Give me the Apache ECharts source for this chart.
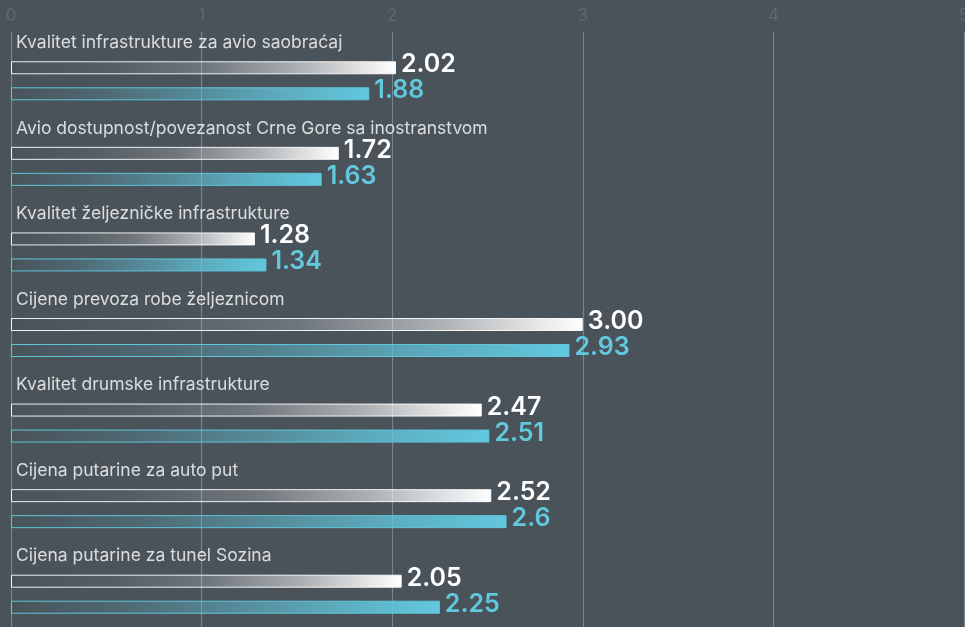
<!DOCTYPE html>
<html>
<head>
<meta charset="utf-8">
<style>
  html, body { margin: 0; padding: 0; background: #4a535a; }
  #chart { width: 965px; height: 627px; }
</style>
<script src="https://cdn.jsdelivr.net/npm/echarts@6/dist/echarts.min.js"></script>
</head>
<body>
<div id="chart"></div>
<script>
// kategorije i vrijednosti
var categories = [
  'Kvalitet infrastrukture za avio saobraćaj',
  'Avio dostupnost/povezanost Crne Gore sa inostranstvom',
  'Kvalitet željezničke infrastrukture',
  'Cijene prevoza robe željeznicom',
  'Kvalitet drumske infrastrukture',
  'Cijena putarine za auto put',
  'Cijena putarine za tunel Sozina'
];
var whiteValues = [2.02, 1.72, 1.28, 3.00, 2.47, 2.52, 2.05];
var cyanValues = [1.88, 1.63, 1.34, 2.93, 2.51, 2.6, 2.25];
var whiteLabels = ['2.02', '1.72', '1.28', '3.00', '2.47', '2.52', '2.05'];
var cyanLabels = ['1.88', '1.63', '1.34', '2.93', '2.51', '2.6', '2.25'];
var xTicks = [0, 1, 2, 3, 4, 5];

var FONT = 'Inter, "Noto Sans", sans-serif';

function gradient(r, g, b, stops) {
  var list = [];
  for (var i = 0; i < stops.length; i++) {
    list.push({ offset: stops[i][0], color: 'rgba(' + r + ',' + g + ',' + b + ',' + stops[i][1] + ')' });
  }
  return new echarts.graphic.LinearGradient(0, 0, 1, 0, list);
}

var chart = echarts.init(document.getElementById('chart'), null, { renderer: 'canvas' });

var nameData = [];
for (var i = 0; i < categories.length; i++) {
  nameData.push([0, i]);
}

var option = {
  backgroundColor: '#4a535a',
  animation: false,
  grid: [
    // mreža i oznake osa
    { left: 11, right: 1, top: 32, bottom: 0, outerBoundsMode: 'none', containLabel: false },
    // stubovi
    { left: 11, right: 1, top: 38, height: 599, outerBoundsMode: 'none', containLabel: false }
  ],
  xAxis: [{
    gridIndex: 0,
    type: 'value',
    position: 'top',
    min: xTicks[0],
    max: xTicks[xTicks.length - 1],
    interval: 1,
    axisLine: { show: false },
    axisTick: { show: false },
    axisLabel: {
      color: '#5e696f',
      fontSize: 17,
      fontFamily: FONT,
      margin: 8
    },
    splitLine: { lineStyle: { color: '#78838a', width: 1.2 } }
  }, {
    gridIndex: 1,
    type: 'value',
    min: xTicks[0],
    max: xTicks[xTicks.length - 1],
    show: false
  }],
  yAxis: [{
    gridIndex: 0,
    type: 'category',
    data: categories,
    inverse: true,
    show: false
  }, {
    gridIndex: 1,
    type: 'category',
    data: categories,
    inverse: true,
    show: false
  }],
  series: [{
    type: 'bar',
    xAxisIndex: 1,
    yAxisIndex: 1,
    data: whiteValues,
    barWidth: 13,
    barGap: '100%',
    itemStyle: {
      color: gradient(255, 255, 255, [[0, 0], [0.25, 0.06], [0.5, 0.2], [0.75, 0.55], [1, 1]]),
      borderColor: 'rgba(255,255,255,0.9)',
      borderWidth: 1
    },
    label: {
      show: true,
      position: 'right',
      distance: 5,
      offset: [0, -3],
      color: '#ffffff',
      fontSize: 25,
      fontWeight: 600,
      fontFamily: FONT,
      formatter: function(p) { return whiteLabels[p.dataIndex]; }
    }
  }, {
    type: 'bar',
    xAxisIndex: 1,
    yAxisIndex: 1,
    data: cyanValues,
    barWidth: 13,
    itemStyle: {
      color: gradient(98, 200, 222, [[0, 0], [0.25, 0.18], [0.5, 0.45], [0.75, 0.75], [1, 1]]),
      borderColor: '#5fc5db',
      borderWidth: 1
    },
    label: {
      show: true,
      position: 'right',
      distance: 5,
      offset: [0, -3],
      color: '#62c8de',
      fontSize: 25,
      fontWeight: 600,
      fontFamily: FONT,
      formatter: function(p) { return cyanLabels[p.dataIndex]; }
    }
  }, {
    // nazivi kategorija iznad stubova
    type: 'scatter',
    xAxisIndex: 1,
    yAxisIndex: 1,
    symbolSize: 0,
    data: nameData,
    silent: true,
    label: {
      show: true,
      position: 'right',
      distance: 5,
      offset: [0, -38],
      color: '#ffffff',
      fontSize: 17.5,
      fontFamily: FONT,
      formatter: function(p) { return categories[p.dataIndex]; }
    }
  }]
};

chart.setOption(option);
</script>
</body>
</html>
